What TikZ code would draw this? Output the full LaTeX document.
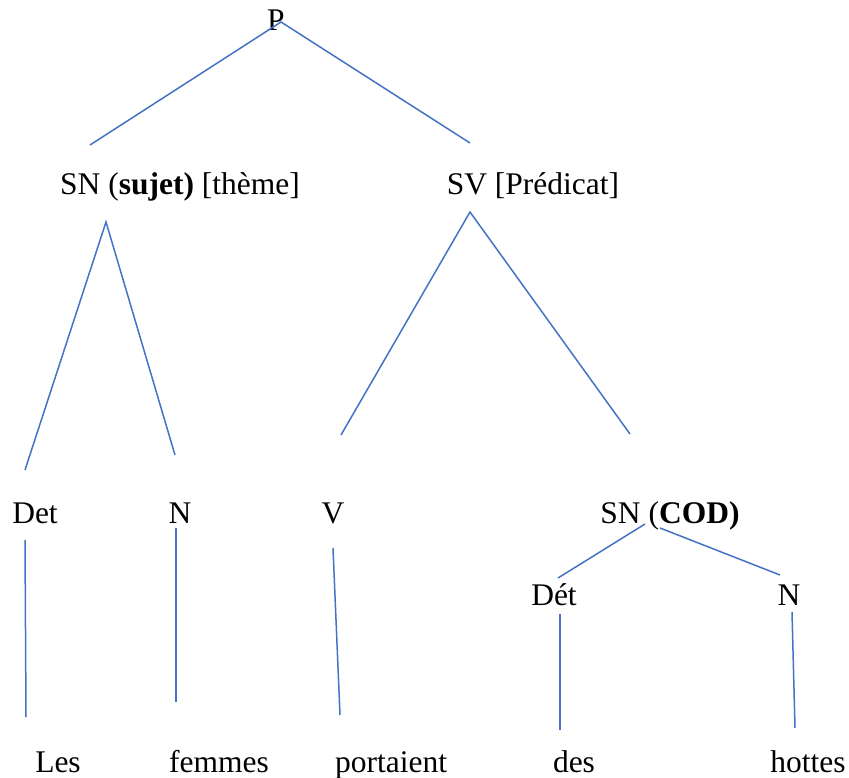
\documentclass[tikz,border=0pt]{standalone}
\usepackage{fontspec}
\setmainfont{Liberation Serif}
\definecolor{treeblue}{RGB}{68,114,196}
\begin{document}
\begin{tikzpicture}[x=1pt,y=-1pt,
  lbl/.style={anchor=base,inner sep=0pt,font=\fontsize{31.5}{36}\selectfont},
  edge/.style={draw=treeblue, line width=1.5pt}]
\useasboundingbox (0,0) rectangle (849,778);
% labels
\node[lbl] (P) at (276,31) {P};
\node[lbl] (SN) at (180,195) {SN (\textbf{sujet)} [thème]};
\node[lbl] (SV) at (533,195) {SV [Prédicat]};
\node[lbl] (Det) at (35,523) {Det};
\node[lbl] (N1) at (180,523) {N};
\node[lbl] (V) at (333,523) {V};
\node[lbl] (SNC) at (670,523) {SN (\textbf{COD)}};
\node[lbl] (Dt) at (554,605) {Dét};
\node[lbl] (N2) at (789,605) {N};
\node[lbl] (Les) at (58,772) {Les};
\node[lbl] (fem) at (219,772) {femmes};
\node[lbl] (por) at (391,772) {portaient};
\node[lbl] (des) at (574,772) {des};
\node[lbl] (hot) at (808,772) {hottes};
% connector end points
\coordinate (p0) at (281,22);
\coordinate (p1) at (90,145);
\coordinate (p2) at (470,143);
\coordinate (s0) at (106,222);
\coordinate (s1) at (25,470);
\coordinate (s2) at (175,455);
\coordinate (v0) at (470,212);
\coordinate (v1) at (341,435);
\coordinate (v2) at (630,434);
\coordinate (d0) at (25,540);
\coordinate (d1) at (26,717);
\coordinate (n0) at (176,528);
\coordinate (n1) at (176,702);
\coordinate (w0) at (333,548);
\coordinate (w1) at (340,715);
\coordinate (c0) at (645,524);
\coordinate (c1) at (558,578);
\coordinate (c2) at (660,528);
\coordinate (c3) at (780,575);
\coordinate (e0) at (560,614);
\coordinate (e1) at (560,730);
\coordinate (h0) at (792,612);
\coordinate (h1) at (795,728);
% connectors
\draw[edge] (p1) -- (p0) -- (p2);
\draw[edge] (s1) -- (s0) -- (s2);
\draw[edge] (v1) -- (v0) -- (v2);
\draw[edge] (d0) -- (d1);
\draw[edge] (n0) -- (n1);
\draw[edge] (w0) -- (w1);
\draw[edge] (c0) -- (c1);
\draw[edge] (c2) -- (c3);
\draw[edge] (e0) -- (e1);
\draw[edge] (h0) -- (h1);
\end{tikzpicture}
\end{document}
